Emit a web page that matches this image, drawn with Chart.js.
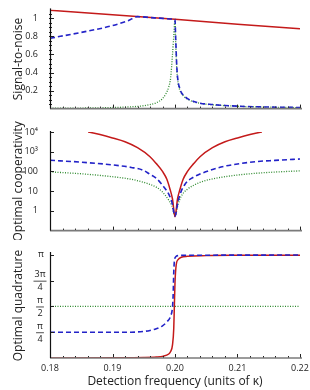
<!DOCTYPE html>
<html>
<head>
<meta charset="utf-8">
<script src="https://cdn.jsdelivr.net/npm/chart.js@4/dist/chart.umd.min.js"></script>
<style>
  html, body { margin: 0; padding: 0; background: #fff; }
  #wrap { position: relative; width: 310px; height: 390px; }
  canvas { position: absolute; left: 0; }
</style>
</head>
<body>
<div id="wrap">
  <canvas id="snr" width="310" height="118" style="top:0px"></canvas>
  <canvas id="coop" width="310" height="120" style="top:120px"></canvas>
  <canvas id="quad" width="310" height="150" style="top:240px"></canvas>
</div>
<script>
// x axis: detection frequency (units of kappa)
const freqTicks = [0.18, 0.19, 0.20, 0.21, 0.22];
const freqTickLabels = ['0.18', '0.19', '0.20', '0.21', '0.22'];

// top panel: signal-to-noise
const snrTicks = [0.2, 0.4, 0.6, 0.8, 1];
const snrRedX = [0.18, 0.19, 0.20, 0.21, 0.22];
const snrRedY = [1.09, 1.04, 0.99, 0.935, 0.885];
const snrBlueX = [0.18, 0.185, 0.19, 0.1925, 0.194, 0.196, 0.198, 0.1995, 0.2, 0.2001, 0.2003, 0.2005, 0.2008, 0.201, 0.2015, 0.202, 0.203, 0.204, 0.206, 0.208, 0.21, 0.215, 0.22];
const snrBlueY = [0.78, 0.845, 0.92, 0.975, 1.02, 1.01, 1.0, 0.993, 0.99, 0.8, 0.45, 0.3, 0.22, 0.18, 0.14, 0.11, 0.08, 0.06, 0.045, 0.035, 0.027, 0.017, 0.012];
const snrGreenX = [0.18, 0.185, 0.19, 0.193, 0.195, 0.196, 0.197, 0.198, 0.1985, 0.199, 0.1993, 0.1996, 0.1998, 0.2, 0.2001, 0.2003, 0.2005, 0.2008, 0.201, 0.2015, 0.202, 0.203, 0.204, 0.206, 0.208, 0.21, 0.215, 0.22];
const snrGreenY = [0.004, 0.006, 0.012, 0.02, 0.032, 0.045, 0.065, 0.11, 0.16, 0.24, 0.34, 0.6, 0.8, 0.99, 0.75, 0.42, 0.28, 0.2, 0.17, 0.13, 0.105, 0.075, 0.058, 0.042, 0.033, 0.026, 0.016, 0.011];

// middle panel: optimal cooperativity (log scale)
const coopTicks = [1, 10, 100, 1000, 10000];
const coopTickLabels = ['1', '10', '100', '10\u00b3', '10\u2074'];
const coopRedX = [0.1861, 0.188, 0.19, 0.192, 0.194, 0.196, 0.197, 0.198, 0.1987, 0.1992, 0.1996, 0.2, 0.2004, 0.2008, 0.2013, 0.202, 0.203, 0.204, 0.206, 0.208, 0.21, 0.212, 0.2139];
const coopRedY = [10000, 7400, 5000, 3200, 1600, 560, 250, 100, 40, 12.6, 4, 0.5, 4, 12.6, 40, 100, 250, 560, 1600, 3200, 5000, 7400, 10000];
const coopBlueX = [0.18, 0.185, 0.19, 0.193, 0.195, 0.196, 0.197, 0.198, 0.199, 0.1995, 0.2, 0.2005, 0.201, 0.2015, 0.202, 0.203, 0.204, 0.206, 0.208, 0.21, 0.213, 0.216, 0.22];
const coopBlueY = [370, 295, 215, 160, 112, 71, 45, 20, 7, 2.8, 0.55, 3.2, 10, 20, 32, 52, 74, 126, 186, 240, 316, 363, 427];
const coopGreenX = [0.18, 0.185, 0.19, 0.193, 0.195, 0.196, 0.197, 0.198, 0.199, 0.1995, 0.2, 0.2005, 0.201, 0.202, 0.203, 0.204, 0.206, 0.208, 0.21, 0.213, 0.216, 0.22];
const coopGreenY = [95, 76, 54, 40, 28, 22, 16, 9, 3.5, 1.8, 0.55, 2.2, 5.6, 12.6, 20, 28, 42, 54, 66, 81, 93, 107];

// bottom panel: optimal quadrature (radians)
const quadTicks = [Math.PI / 4, Math.PI / 2, 3 * Math.PI / 4, Math.PI];
const quadTickNum = ['\u03c0', '\u03c0', '3\u03c0', '\u03c0'];
const quadTickDen = ['4', '2', '4', ''];
const quadRedX = [0.18, 0.19, 0.195, 0.197, 0.198, 0.199, 0.1993, 0.1996, 0.1998, 0.1999, 0.2, 0.2002, 0.2005, 0.201, 0.202, 0.205, 0.21, 0.22];
const quadRedY = [0.0, 0.005, 0.015, 0.03, 0.05, 0.12, 0.2, 0.4, 0.9, 1.6, 2.3, 2.85, 3.0, 3.07, 3.1, 3.12, 3.13, 3.135];
const quadBlueX = [0.18, 0.19, 0.193, 0.195, 0.196, 0.197, 0.198, 0.1987, 0.1993, 0.1996, 0.1997, 0.1998, 0.1999, 0.2001, 0.2005, 0.202, 0.21, 0.22];
const quadBlueY = [0.785, 0.785, 0.787, 0.81, 0.84, 0.89, 0.98, 1.1, 1.28, 1.55, 1.9, 2.6, 2.95, 3.08, 3.12, 3.13, 3.135, 3.138];
const quadGreenX = [0.18, 0.22];
const quadGreenY = [Math.PI / 2, Math.PI / 2];

const FONT = '"Open Sans", "DejaVu Sans", sans-serif';
const RED = '#c41a1a', BLUE = '#2323c8', GREEN = '#2f8a2f';

function pts(xs, ys) {
  return xs.map((x, i) => ({ x: x, y: ys[i] }));
}

function lines(blue, red, green) {
  // first dataset is painted last, so blue sits on top
  return [
    { data: blue, borderColor: BLUE, borderWidth: 1.6, borderDash: [5, 3] },
    { data: red, borderColor: RED, borderWidth: 1.5 },
    { data: green, borderColor: GREEN, borderWidth: 1.3, borderDash: [1, 1.5] }
  ];
}

// frame: axis lines and inward tick marks, Mathematica style
const frame = {
  id: 'frame',
  afterDraw(chart, args, o) {
    const { ctx, chartArea: a, scales } = chart;
    const xs = scales.x, ys = scales.y;
    ctx.save();
    ctx.strokeStyle = '#222';
    ctx.lineWidth = 1;
    for (let i = 0; i <= 20; i++) {
      const px = Math.round(xs.getPixelForValue(0.18 + i * 0.002)) + 0.5;
      const len = i % 5 === 0 ? 4 : 2;
      ctx.beginPath(); ctx.moveTo(px, a.bottom); ctx.lineTo(px, a.bottom - len); ctx.stroke();
    }
    o.major.forEach(v => {
      const py = Math.round(ys.getPixelForValue(v)) + 0.5;
      ctx.beginPath(); ctx.moveTo(a.left, py); ctx.lineTo(a.left + 4, py); ctx.stroke();
    });
    o.minor.forEach(v => {
      const py = Math.round(ys.getPixelForValue(v)) + 0.5;
      ctx.beginPath(); ctx.moveTo(a.left - 1, py); ctx.lineTo(a.left + 2, py); ctx.stroke();
    });
    ctx.strokeStyle = '#7a7a7a';
    ctx.lineWidth = 1.6;
    ctx.beginPath(); ctx.moveTo(a.left, a.bottom); ctx.lineTo(a.right + 2, a.bottom); ctx.stroke();
    ctx.strokeStyle = '#111';
    ctx.lineWidth = 1.2;
    ctx.beginPath(); ctx.moveTo(a.left + 0.5, a.top - 1); ctx.lineTo(a.left + 0.5, a.bottom); ctx.stroke();

    ctx.fillStyle = '#222';
    ctx.textAlign = 'center';
    ctx.textBaseline = 'middle';
    ctx.font = '9px ' + FONT;
    // frequency labels under the bottom panel
    if (o.xLabels) {
      freqTicks.forEach((v, i) => {
        ctx.fillText(freqTickLabels[i], xs.getPixelForValue(v), a.bottom + 10);
      });
    }
    // stacked fraction labels for the quadrature axis
    if (o.fractions) {
      o.fractions.ticks.forEach((v, i) => {
        const py = ys.getPixelForValue(v);
        const cx = 40;
        const num = o.fractions.num[i], den = o.fractions.den[i];
        if (!den) { ctx.fillText(num, cx + 1, py); return; }
        const w = ctx.measureText(num).width + 2;
        ctx.fillText(num, cx, py - 6);
        ctx.fillText(den, cx, py + 7);
        ctx.beginPath(); ctx.moveTo(cx - w / 2, py + 0.5); ctx.lineTo(cx + w / 2, py + 0.5);
        ctx.strokeStyle = '#222'; ctx.lineWidth = 0.8; ctx.stroke();
      });
    }
    ctx.restore();
  }
};

function yTitle(text) {
  return { display: true, text: text, color: '#222', font: { family: FONT, size: 12 }, padding: { top: 11, bottom: 0 } };
}

function baseOptions(pad, xScale, yScale, frameOpts) {
  return {
    responsive: false,
    animation: false,
    devicePixelRatio: 1,
    layout: { padding: pad, autoPadding: false },
    elements: { point: { radius: 0 }, line: { tension: 0, cubicInterpolationMode: 'monotone', fill: false } },
    plugins: { legend: { display: false }, tooltip: { enabled: false }, frame: frameOpts },
    scales: { x: xScale, y: yScale }
  };
}

function hiddenX() {
  return { type: 'linear', min: 0.18, max: 0.22, display: false };
}

const snrMinor = [];
for (let v = 0.05; v < 1.1; v += 0.05) snrMinor.push(v);

new Chart(document.getElementById('snr'), {
  type: 'line',
  data: { datasets: lines(pts(snrBlueX, snrBlueY), pts(snrRedX, snrRedY), pts(snrGreenX, snrGreenY)) },
  options: baseOptions({ top: 6, right: 10, bottom: 6, left: 0 }, hiddenX(), {
    type: 'linear', min: 0, max: 1.1,
    afterFit: s => { s.width = 50; },
    afterBuildTicks: s => { s.ticks = snrTicks.map(v => ({ value: v })); },
    grid: { display: false }, border: { display: false },
    ticks: { padding: 4, color: '#222', font: { family: FONT, size: 9 }, callback: v => String(v) },
    title: yTitle('Signal-to-noise')
  }, { major: snrTicks, minor: snrMinor }),
  plugins: [frame]
});

new Chart(document.getElementById('coop'), {
  type: 'line',
  data: { datasets: lines(pts(coopBlueX, coopBlueY), pts(coopRedX, coopRedY), pts(coopGreenX, coopGreenY)) },
  options: baseOptions({ top: 12, right: 10, bottom: 7, left: 0 }, hiddenX(), {
    type: 'logarithmic', min: 0.1, max: 10000,
    afterFit: s => { s.width = 50; },
    afterBuildTicks: s => { s.ticks = coopTicks.map(v => ({ value: v })); },
    grid: { display: false }, border: { display: false },
    ticks: { padding: 4, color: '#222', font: { family: FONT, size: 9 }, callback: (v, i) => coopTickLabels[i] },
    title: yTitle('Optimal cooperativity')
  }, { major: coopTicks, minor: [] }),
  plugins: [frame]
});

new Chart(document.getElementById('quad'), {
  type: 'line',
  data: { datasets: lines(pts(quadBlueX, quadBlueY), pts(quadRedX, quadRedY), pts(quadGreenX, quadGreenY)) },
  options: baseOptions({ top: 13, right: 10, bottom: 0, left: 0 }, {
    type: 'linear', min: 0.18, max: 0.22,
    afterFit: s => { s.height = 32; },
    grid: { display: false }, border: { display: false },
    ticks: { display: false },
    title: { display: true, text: 'Detection frequency (units of \u03ba)', color: '#222', font: { family: FONT, size: 12 }, padding: { top: 0, bottom: 1 } }
  }, {
    type: 'linear', min: 0, max: 3.2,
    afterFit: s => { s.width = 50; },
    grid: { display: false }, border: { display: false },
    ticks: { display: false },
    title: yTitle('Optimal quadrature')
  }, { major: quadTicks, minor: [], xLabels: true, fractions: { ticks: quadTicks, num: quadTickNum, den: quadTickDen } }),
  plugins: [frame]
});
</script>
</body>
</html>
